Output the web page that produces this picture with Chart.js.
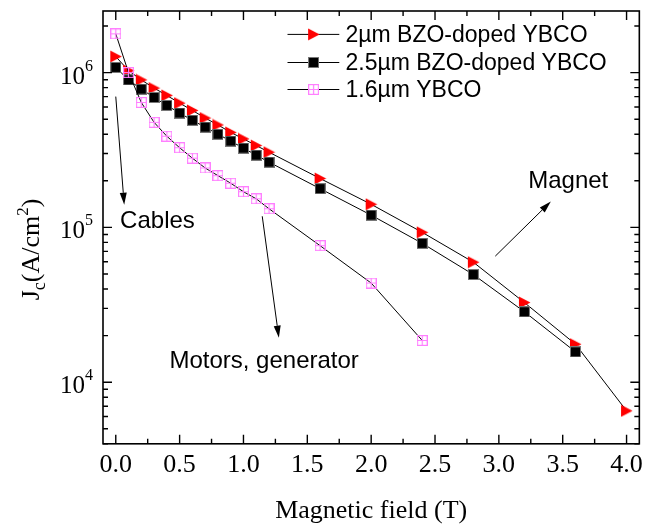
<!DOCTYPE html>
<html lang="en">
<head>
<meta charset="UTF-8">
<title>Jc vs magnetic field</title>
<script src="https://cdn.jsdelivr.net/npm/chart.js@4.4.1/dist/chart.umd.min.js"></script>
<style>
  html, body { margin: 0; padding: 0; background: #fff; }
  #wrap { width: 649px; height: 524px; }
</style>
</head>
<body>
<div id="wrap"><canvas id="chart" width="649" height="524"></canvas></div>
<script>
// values
const fieldBZO2 = [0, 0.1, 0.2, 0.3, 0.4, 0.5, 0.6, 0.7, 0.8, 0.9, 1.0, 1.1, 1.2, 1.6, 2.0, 2.4, 2.8, 3.2, 3.6, 4.0];
const jcBZO2 = [1.27e6, 1.03e6, 8.97e5, 7.94e5, 7.12e5, 6.35e5, 5.70e5, 5.09e5, 4.59e5, 4.11e5,
                3.73e5, 3.38e5, 3.06e5, 2.07e5, 1.41e5, 9.29e4, 5.96e4, 3.27e4, 1.76e4, 6.53e3];

const fieldBZO25 = [0, 0.1, 0.2, 0.3, 0.4, 0.5, 0.6, 0.7, 0.8, 0.9, 1.0, 1.1, 1.2, 1.6, 2.0, 2.4, 2.8, 3.2, 3.6];
const jcBZO25 = [1.08e6, 8.97e5, 7.82e5, 6.91e5, 6.14e5, 5.48e5, 4.92e5, 4.44e5, 4.00e5, 3.61e5,
                 3.25e5, 2.93e5, 2.64e5, 1.78e5, 1.20e5, 7.89e4, 4.96e4, 2.85e4, 1.57e4];

const fieldYBCO = [0, 0.1, 0.2, 0.3, 0.4, 0.5, 0.6, 0.7, 0.8, 0.9, 1.0, 1.1, 1.2, 1.6, 2.0, 2.4];
const jcYBCO = [1.78e6, 1.0e6, 6.41e5, 4.77e5, 3.88e5, 3.27e5, 2.80e5, 2.42e5, 2.16e5, 1.93e5,
                1.70e5, 1.53e5, 1.32e5, 7.62e4, 4.37e4, 1.86e4];

const seriesNames = ['2\u00b5m BZO-doped YBCO', '2.5\u00b5m BZO-doped YBCO', '1.6\u00b5m YBCO'];

const xTicks = [0, 0.5, 1.0, 1.5, 2.0, 2.5, 3.0, 3.5, 4.0];
const xMinorTicks = [0.25, 0.75, 1.25, 1.75, 2.25, 2.75, 3.25, 3.75];
const yTickExps = [4, 5, 6];
const yMinorTicks = [4e3, 5e3, 6e3, 7e3, 8e3, 9e3, 2e4, 3e4, 4e4, 5e4, 6e4, 7e4, 8e4, 9e4,
                     2e5, 3e5, 4e5, 5e5, 6e5, 7e5, 8e5, 9e5, 2e6];

// annotations, in data coordinates
const notes = [
  { text: 'Cables', x: 0.034, y: 1.10e5 },
  { text: 'Magnet', x: 3.23, y: 1.98e5 },
  { text: 'Motors, generator', x: 0.42, y: 1.37e4 }
];
const arrows = [
  { from: [0.0, 7.0e5], to: [0.066, 1.40e5] },
  { from: [1.147, 1.18e5], to: [1.277, 1.94e4] },
  { from: [2.972, 6.52e4], to: [3.407, 1.47e5] }
];

const SERIF = '"Liberation Serif", "Times New Roman", serif';
const SANS = '"Liberation Sans", Arial, sans-serif';

// marker images
function makeMarker(w, h, draw) {
  const c = document.createElement('canvas');
  c.width = w; c.height = h;
  draw(c.getContext('2d'));
  return c;
}
const triMarker = makeMarker(13, 13, g => {
  g.fillStyle = '#ff0000';
  g.beginPath();
  g.moveTo(1, 0.5); g.lineTo(12.5, 6.5); g.lineTo(1, 12.5);
  g.closePath(); g.fill();
});
const sqMarker = makeMarker(11, 11, g => {
  g.fillStyle = '#000';
  g.fillRect(0.5, 0.5, 10, 10);
  g.strokeStyle = '#777';
  g.lineWidth = 1;
  g.strokeRect(0.5, 0.5, 10, 10);
});
const boxMarker = makeMarker(11, 11, g => {
  g.strokeStyle = '#ff7fff';
  g.lineWidth = 1.2;
  g.strokeRect(0.6, 0.6, 9.8, 9.8);
  g.beginPath();
  g.moveTo(5.5, 1); g.lineTo(5.5, 10);
  g.moveTo(1, 5.5); g.lineTo(10, 5.5);
  g.stroke();
});

const toPoints = (xs, ys) => xs.map((x, i) => ({ x: x, y: ys[i] }));

// frame, inward ticks, y labels, y title, legend, annotations
const decorations = {
  id: 'decorations',
  afterDatasetsDraw(chart) {
    const ctx = chart.ctx;
    const a = chart.chartArea;
    const xs = chart.scales.x, ys = chart.scales.y;
    ctx.save();
    ctx.strokeStyle = '#000';
    ctx.lineWidth = 1.6;
    ctx.strokeRect(a.left, a.top, a.right - a.left, a.bottom - a.top);

    ctx.lineWidth = 1.4;
    ctx.beginPath();
    const xTick = (v, len) => {
      const px = xs.getPixelForValue(v);
      ctx.moveTo(px, a.bottom); ctx.lineTo(px, a.bottom - len);
      ctx.moveTo(px, a.top); ctx.lineTo(px, a.top + len);
    };
    const yTick = (v, len) => {
      const py = ys.getPixelForValue(v);
      ctx.moveTo(a.left, py); ctx.lineTo(a.left + len, py);
      ctx.moveTo(a.right, py); ctx.lineTo(a.right - len, py);
    };
    xTicks.forEach(v => xTick(v, 9));
    xMinorTicks.forEach(v => xTick(v, 5));
    yTickExps.forEach(e => yTick(Math.pow(10, e), 9));
    yMinorTicks.forEach(v => yTick(v, 5));
    ctx.stroke();

    // y tick labels 10^n
    ctx.fillStyle = '#000';
    yTickExps.forEach(e => {
      const py = ys.getPixelForValue(Math.pow(10, e));
      ctx.font = '25px ' + SERIF;
      ctx.textAlign = 'right';
      ctx.textBaseline = 'alphabetic';
      ctx.fillText('10', 85, py + 11);
      ctx.font = '16px ' + SERIF;
      ctx.textAlign = 'left';
      ctx.fillText(String(e), 85, py - 2);
    });

    // y title J_c (A/cm^2)
    const parts = [
      { t: 'J', size: 26, dy: 0 },
      { t: 'c', size: 18, dy: 6 },
      { t: '(A/cm', size: 26, dy: 0 },
      { t: '2', size: 17, dy: -11 },
      { t: ')', size: 26, dy: 0 }
    ];
    let total = 0;
    parts.forEach(p => { ctx.font = p.size + 'px ' + SERIF; p.w = ctx.measureText(p.t).width; total += p.w; });
    ctx.save();
    ctx.translate(39, (a.top + a.bottom) / 2 + 22);
    ctx.rotate(-Math.PI / 2);
    ctx.textAlign = 'left';
    let cx = -total / 2;
    parts.forEach(p => {
      ctx.font = p.size + 'px ' + SERIF;
      ctx.fillText(p.t, cx, p.dy);
      cx += p.w;
    });
    ctx.restore();

    // legend
    const markers = [triMarker, sqMarker, boxMarker];
    const rowY = [34.4, 62.5, 89.5];
    ctx.font = '23px ' + SANS;
    ctx.textBaseline = 'middle';
    ctx.textAlign = 'left';
    seriesNames.forEach((name, i) => {
      const y = rowY[i];
      ctx.strokeStyle = '#000';
      ctx.lineWidth = 1;
      ctx.beginPath();
      ctx.moveTo(287.5, y); ctx.lineTo(339.3, y);
      ctx.stroke();
      const m = markers[i];
      ctx.drawImage(m, 313.6 - m.width / 2, y - m.height / 2);
      ctx.fillStyle = '#000';
      ctx.fillText(name, 345.5, y + 1);
    });

    // annotations
    ctx.font = '24px ' + SANS;
    notes.forEach(n => {
      ctx.fillText(n.text, xs.getPixelForValue(n.x), ys.getPixelForValue(n.y));
    });
    ctx.lineWidth = 1;
    arrows.forEach(ar => {
      const x0 = xs.getPixelForValue(ar.from[0]), y0 = ys.getPixelForValue(ar.from[1]);
      const x1 = xs.getPixelForValue(ar.to[0]), y1 = ys.getPixelForValue(ar.to[1]);
      const ang = Math.atan2(y1 - y0, x1 - x0);
      const hl = 12, hw = 3.5;
      ctx.beginPath();
      ctx.moveTo(x0, y0);
      ctx.lineTo(x1 - hl * Math.cos(ang), y1 - hl * Math.sin(ang));
      ctx.stroke();
      ctx.beginPath();
      ctx.moveTo(x1, y1);
      ctx.lineTo(x1 - hl * Math.cos(ang) + hw * Math.sin(ang), y1 - hl * Math.sin(ang) - hw * Math.cos(ang));
      ctx.lineTo(x1 - hl * Math.cos(ang) - hw * Math.sin(ang), y1 - hl * Math.sin(ang) + hw * Math.cos(ang));
      ctx.closePath();
      ctx.fill();
    });
    ctx.restore();
  }
};

new Chart(document.getElementById('chart'), {
  type: 'scatter',
  data: {
    datasets: [
      {
        label: seriesNames[0],
        data: toPoints(fieldBZO2, jcBZO2),
        showLine: true,
        borderColor: '#000',
        borderWidth: 1,
        pointStyle: triMarker,
        order: 2
      },
      {
        label: seriesNames[1],
        data: toPoints(fieldBZO25, jcBZO25),
        showLine: true,
        borderColor: '#000',
        borderWidth: 1,
        pointStyle: sqMarker,
        order: 1
      },
      {
        label: seriesNames[2],
        data: toPoints(fieldYBCO, jcYBCO),
        showLine: true,
        borderColor: '#000',
        borderWidth: 1,
        pointStyle: boxMarker,
        order: 0
      }
    ]
  },
  options: {
    responsive: false,
    devicePixelRatio: 1,
    animation: false,
    events: [],
    layout: { padding: { left: 103, top: 11, right: 8, bottom: 0 } },
    plugins: {
      legend: { display: false },
      tooltip: { enabled: false }
    },
    scales: {
      x: {
        type: 'linear',
        min: -0.1,
        max: 4.1,
        afterBuildTicks: scale => { scale.ticks = xTicks.map(v => ({ value: v })); },
        grid: { display: false, drawTicks: false },
        border: { display: false },
        ticks: {
          color: '#000',
          font: { family: SERIF, size: 26 },
          padding: 6,
          maxRotation: 0,
          autoSkip: false,
          callback: v => Number(v).toFixed(1)
        },
        title: {
          display: true,
          text: 'Magnetic field (T)',
          color: '#000',
          font: { family: SERIF, size: 26, lineHeight: 1.0 },
          padding: { top: 11, bottom: 0 }
        }
      },
      y: {
        type: 'logarithmic',
        display: false,
        min: 4000,
        max: 2.5e6
      }
    }
  },
  plugins: [decorations]
});
</script>
</body>
</html>
